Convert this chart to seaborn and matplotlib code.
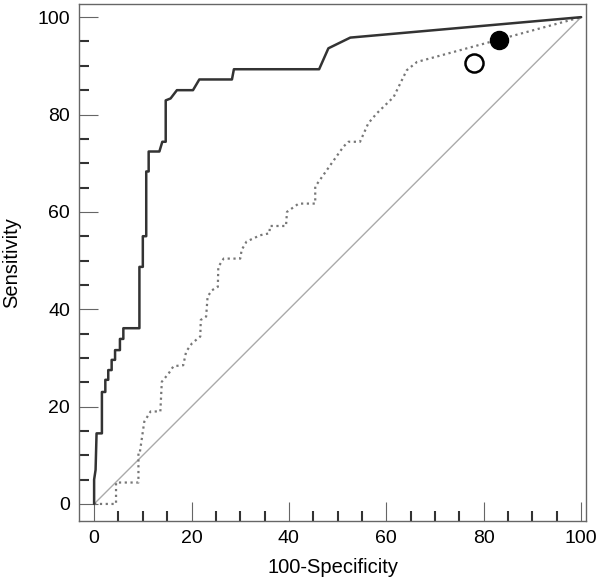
import pandas as pd
import matplotlib.pyplot as plt
import seaborn as sns
from matplotlib.ticker import MultipleLocator

# ROC curve vertices (100-Specificity, Sensitivity)
solid_x = [0, 0, 0.3, 0.5, 1.6, 1.6, 2.3, 2.3, 2.9, 2.9, 3.6, 3.6, 4.3, 4.3, 5.3, 5.3, 6.0, 6.0,
           9.3, 9.3, 10.0, 10.0, 10.7, 10.7, 11.2, 11.2, 13.4, 14.0, 14.7, 14.7, 15.7, 17.0,
           20.3, 21.6, 28.3, 28.7, 46.2, 48.1, 52.6, 100]
solid_y = [0, 5, 7, 14.5, 14.5, 23, 23, 25.5, 25.5, 27.5, 27.5, 29.6, 29.6, 31.6, 31.6, 33.9,
           33.9, 36.1, 36.1, 48.7, 48.7, 55, 55, 68.3, 68.3, 72.4, 72.4, 74.4, 74.4, 82.9, 83.3,
           85, 85, 87.2, 87.2, 89.3, 89.3, 93.6, 95.8, 100]

dotted_x = [0, 4.5, 4.5, 9.1, 9.1, 9.4, 10.3, 11.6, 13.6, 13.9, 15.3, 16.3, 18.3, 18.9, 20.1,
            21.8, 21.9, 23.0, 23.3, 24.2, 25.4, 25.5, 26.6, 30.0, 30.3, 31.3, 34.1, 36.0, 36.1,
            39.4, 39.6, 42.0, 45.4, 45.4, 48.5, 51.2, 52.2, 54.6, 56.3, 58.0, 61.5, 63.5, 64.2,
            66.3, 100]
dotted_y = [0, 0, 4.4, 4.4, 10.7, 10.7, 16.9, 19, 19, 25.1, 26.8, 28.3, 28.5, 31.3, 33.0, 34.4,
            37.8, 38.5, 42.6, 43.9, 44.6, 48.7, 50.4, 50.4, 52.2, 53.9, 55.2, 55.6, 57.1, 57.1,
            60.0, 61.7, 61.7, 65.2, 69.6, 73.4, 74.4, 74.4, 78.2, 80.2, 83.6, 87.7, 89.1, 90.8,
            100]

ref_x = [0, 100]
ref_y = [0, 100]

# the two highlighted points
open_pt = (77.9, 90.5)
filled_pt = (83.1, 95.4)

sns.set_style('white')
plt.rcParams['font.family'] = ['Liberation Sans', 'DejaVu Sans']
plt.rcParams['text.color'] = 'black'
plt.rcParams['axes.labelcolor'] = 'black'
plt.rcParams['xtick.labelcolor'] = 'black'
plt.rcParams['ytick.labelcolor'] = 'black'

fig = plt.figure(figsize=(6, 5.81), dpi=100)
ax = fig.add_axes([0.1317, 0.1033, 0.845, 0.8898])

sns.lineplot(x=ref_x, y=ref_y, ax=ax, color='#aaaaaa', linewidth=1.0,
             sort=False, estimator=None)
sns.lineplot(x=dotted_x, y=dotted_y, ax=ax, color='#777777', linewidth=1.6,
             sort=False, estimator=None, linestyle=(0, (1, 1.6)))
sns.lineplot(x=solid_x, y=solid_y, ax=ax, color='#333333', linewidth=1.8,
             sort=False, estimator=None)

ax.plot(*open_pt, marker='o', markersize=13, markerfacecolor='white',
        markeredgecolor='black', markeredgewidth=1.8, linestyle='none')
ax.plot(*filled_pt, marker='o', markersize=13, markerfacecolor='black',
        markeredgecolor='black', linestyle='none')

ax.set_xlim(-3.1, 101)
ax.set_ylim(-3.5, 102.7)
ax.xaxis.set_major_locator(MultipleLocator(20))
ax.xaxis.set_minor_locator(MultipleLocator(5))
ax.yaxis.set_major_locator(MultipleLocator(20))
ax.yaxis.set_minor_locator(MultipleLocator(5))
ax.tick_params(which='major', direction='in', length=14, width=0.8, color='#666666',
               labelsize=14, labelcolor='black', pad=6.5, bottom=True, left=True)
ax.tick_params(which='minor', direction='in', length=7, width=1.5, color='#333333',
               bottom=True, left=True)

for s in ax.spines.values():
    s.set_color('#666666')
    s.set_linewidth(1.0)

ax.set_xlabel('100-Specificity', fontsize=14.5, labelpad=8, color='black')
ax.set_ylabel('Sensitivity', fontsize=14.5, labelpad=12, color='black')

plt.savefig('out.png', dpi=100)
